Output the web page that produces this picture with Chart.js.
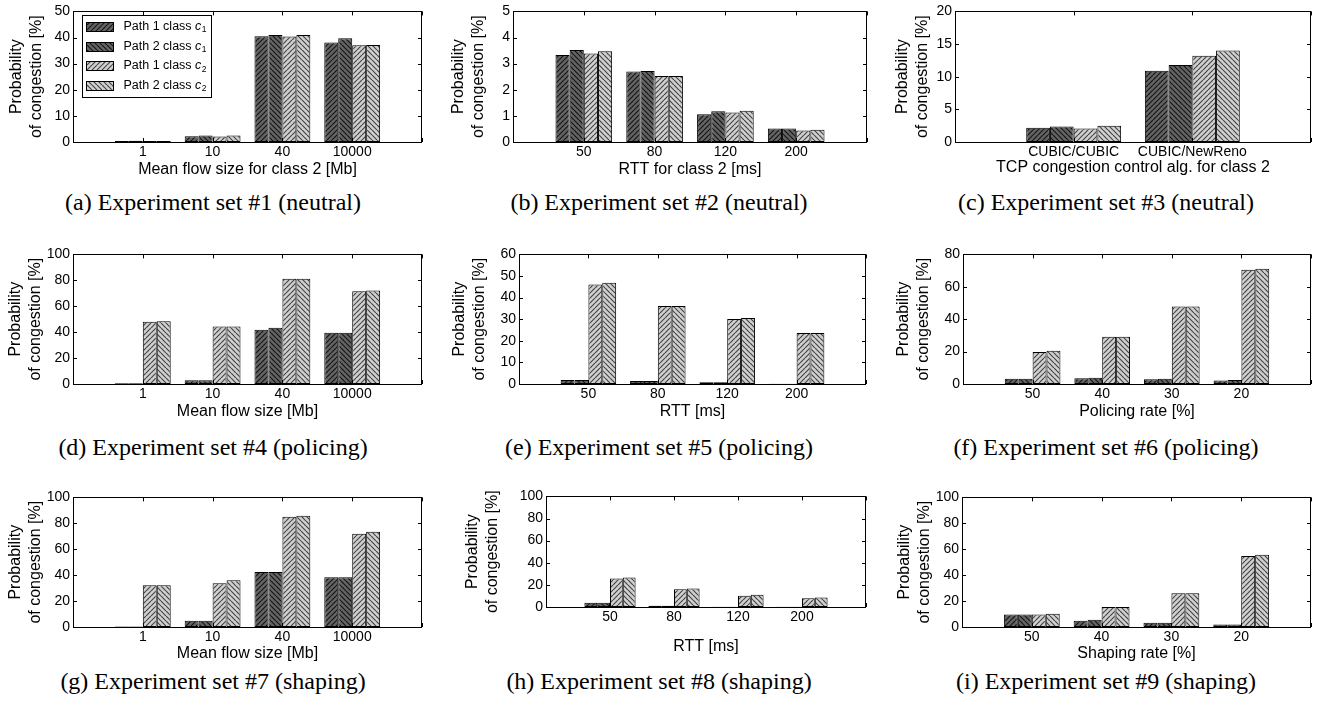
<!DOCTYPE html>
<html>
<head>
<meta charset="utf-8">
<script src="https://cdn.jsdelivr.net/npm/chart.js@4.4.1/dist/chart.umd.min.js"></script>
<style>
  body { margin: 0; background: #fff; width: 1327px; height: 706px; position: relative; overflow: hidden; }
  .panel { position: absolute; }
  .cap { position: absolute; font-family: "Liberation Serif", "Times New Roman", serif; font-size: 24px;
         white-space: nowrap; transform: translate(-50%, -50%); color: #000; }
</style>
</head>
<body>
<script>
// category labels
const flowSizes = ['1', '10', '40', '10000']
const rtts = ['50', '80', '120', '200']
const tcpAlgs = ['CUBIC/CUBIC', 'CUBIC/NewReno']
const rates = ['50', '40', '30', '20']

const seriesLabels = ['Path 1 class c1', 'Path 2 class c1', 'Path 1 class c2', 'Path 2 class c2']

// values per series, in the order of seriesLabels
const set1 = [[0.4, 2.2, 40.5, 38.1], [0.5, 2.5, 41.0, 39.7], [0.4, 2.1, 40.4, 37.0], [0.4, 2.5, 41.0, 37.1]]
const set2 = [[3.33, 2.70, 1.06, 0.52], [3.52, 2.72, 1.18, 0.52], [3.39, 2.53, 1.13, 0.44], [3.47, 2.53, 1.20, 0.47]]
const set3 = [[2.18, 10.9], [2.38, 11.8], [2.08, 13.2], [2.48, 14.0]]
const set4 = [[0.5, 2.8, 41.9, 39.6], [0.5, 2.8, 43.4, 39.6], [48.0, 44.4, 81.2, 71.6], [48.5, 44.4, 81.2, 72.1]]
const set5 = [[1.8, 1.4, 0.8, 0.15], [1.8, 1.4, 0.8, 0.15], [46.1, 36.1, 30.1, 23.6], [46.9, 36.1, 30.6, 23.6]]
const set6 = [[3.2, 3.5, 3.0, 2.2], [3.2, 3.9, 3.2, 2.4], [19.7, 29.2, 47.9, 70.5], [20.5, 29.2, 47.9, 71.1]]
const set7 = [[0.3, 4.8, 42.5, 38.4], [0.3, 4.8, 42.5, 38.4], [32.3, 33.8, 85.0, 72.0], [32.3, 36.1, 85.8, 73.5]]
const set8 = [[3.9, 1.2, 0.3, 0.15], [3.9, 1.2, 0.3, 0.15], [25.7, 16.1, 10.1, 7.8], [26.6, 16.7, 11.0, 8.7]]
const set9 = [[9.7, 4.8, 3.3, 2.0], [9.7, 5.6, 3.3, 2.0], [9.7, 15.5, 26.0, 54.7], [10.2, 15.5, 26.0, 55.7]]

// y axis ranges
const yMax = [50, 5, 20, 100, 60, 80, 100, 100, 100]
const yStep = [10, 1, 5, 20, 10, 10, 20, 20, 20]

const xTitles = [
  'Mean flow size for class 2 [Mb]', 'RTT for class 2 [ms]', 'TCP congestion control alg. for class 2',
  'Mean flow size [Mb]', 'RTT [ms]', 'Policing rate [%]',
  'Mean flow size [Mb]', 'RTT [ms]', 'Shaping rate [%]'
]
const captions = [
  '(a) Experiment set #1 (neutral)', '(b) Experiment set #2 (neutral)', '(c) Experiment set #3 (neutral)',
  '(d) Experiment set #4 (policing)', '(e) Experiment set #5 (policing)', '(f) Experiment set #6 (policing)',
  '(g) Experiment set #7 (shaping)', '(h) Experiment set #8 (shaping)', '(i) Experiment set #9 (shaping)'
]

const sets = [set1, set2, set3, set4, set5, set6, set7, set8, set9]
const cats = [flowSizes, rtts, tcpAlgs, flowSizes, rtts, rates, flowSizes, rtts, rates]

// plot-area boxes in page pixels (l, t, r, b), offset of y-title, x-title distance
const boxes = [
  { l: 73, t: 10, r: 422, b: 142, d1: 56, xt: 28 },
  { l: 513, t: 10, r: 867, b: 142, d1: 54, xt: 28 },
  { l: 955, t: 10, r: 1311, b: 142, d1: 52, xt: 26 },
  { l: 73, t: 253, r: 422, b: 384, d1: 57, xt: 28 },
  { l: 519, t: 253, r: 866, b: 384, d1: 59, xt: 28 },
  { l: 963, t: 253, r: 1311, b: 384, d1: 59, xt: 28 },
  { l: 73, t: 496, r: 422, b: 627, d1: 57, xt: 27 },
  { l: 546, t: 495, r: 866, b: 607, d1: 73, xt: 40 },
  { l: 962, t: 496, r: 1311, b: 627, d1: 57, xt: 27 }
]
const capPos = [[213, 202], [659, 202], [1106, 202], [213, 447], [659, 447], [1106, 447], [213, 681], [659, 681], [1106, 681]]

function hatch (bg, fg, dir) {
  const s = 5
  const c = document.createElement('canvas')
  c.width = s; c.height = s
  const g = c.getContext('2d')
  g.fillStyle = bg
  g.fillRect(0, 0, s, s)
  g.strokeStyle = fg
  g.lineWidth = 1.2
  g.beginPath()
  for (let k = -1; k <= 1; k++) {
    if (dir > 0) { g.moveTo(k * s, s); g.lineTo(k * s + s, 0) } else { g.moveTo(k * s, 0); g.lineTo(k * s + s, s) }
  }
  g.stroke()
  return g.createPattern(c, 'repeat')
}

const fills = [
  hatch('#646464', '#151515', 1),
  hatch('#646464', '#151515', -1),
  hatch('#d0d0d0', '#454545', 1),
  hatch('#d0d0d0', '#454545', -1)
]

// box round the plot with inward tick marks, as in the original
const boxPlugin = {
  id: 'axbox',
  afterDatasetsDraw (chart) {
    const { ctx, chartArea: a, scales: { x, y } } = chart
    ctx.save()
    ctx.strokeStyle = '#000'
    ctx.lineWidth = 1
    ctx.beginPath()
    y.ticks.forEach((t, i) => {
      const py = Math.round(y.getPixelForTick(i)) + 0.5
      ctx.moveTo(a.left, py); ctx.lineTo(a.left + 4, py)
      ctx.moveTo(a.right, py); ctx.lineTo(a.right - 4, py)
    })
    x.ticks.forEach((t, i) => {
      const px = Math.round(x.getPixelForTick(i)) + 0.5
      ctx.moveTo(px, a.bottom); ctx.lineTo(px, a.bottom - 4)
      ctx.moveTo(px, a.top); ctx.lineTo(px, a.top + 4)
    })
    ctx.stroke()
    ctx.strokeRect(Math.round(a.left) + 0.5, Math.round(a.top) + 0.5, Math.round(a.width) - 1, Math.round(a.height))
    ctx.restore()
  }
}

// framed legend drawn inside the plot area of the first panel
const legendPlugin = {
  id: 'framedLegend',
  afterDraw (chart, args, opts) {
    if (!opts.show) return
    const { ctx, chartArea: a } = chart
    const x0 = Math.round(a.left) + 9.5
    const y0 = Math.round(a.top) + 4.5
    ctx.save()
    ctx.fillStyle = '#fff'
    ctx.fillRect(x0, y0, 129, 82)
    ctx.strokeStyle = '#000'
    ctx.lineWidth = 1
    ctx.strokeRect(x0, y0, 129, 82)
    chart.data.datasets.forEach((ds, i) => {
      const cy = y0 + 11 + i * 19.7
      ctx.fillStyle = ds.backgroundColor
      ctx.fillRect(x0 + 4, Math.round(cy - 4.5), 27, 9)
      ctx.strokeRect(x0 + 4, Math.round(cy - 4.5) + 0.5, 27, 9)
      const lbl = ds.label
      ctx.fillStyle = '#000'
      ctx.textBaseline = 'middle'
      ctx.font = '12.5px "Liberation Sans", Arial, sans-serif'
      const head = lbl.slice(0, -2)
      let tx = x0 + 41
      ctx.fillText(head, tx, cy)
      tx += ctx.measureText(head).width
      ctx.font = 'italic 12.5px "Liberation Sans", Arial, sans-serif'
      ctx.fillText(lbl.slice(-2, -1), tx, cy)
      tx += ctx.measureText(lbl.slice(-2, -1)).width
      ctx.font = '8.5px "Liberation Sans", Arial, sans-serif'
      ctx.fillText(lbl.slice(-1), tx + 0.5, cy + 3.5)
    })
    ctx.restore()
  }
}

const tickFont = { family: '"Liberation Sans", Arial, sans-serif', size: 14, lineHeight: 1.2 }
const titleFont = { family: '"Liberation Sans", Arial, sans-serif', size: 16, lineHeight: 1.25 }

function build (k) {
  const b = boxes[k]
  const PT = 10
  const PR = 4
  const YW = b.d1 + 10
  const XH = b.xt + 10
  const w = YW + (b.r - b.l) + PR
  const h = PT + (b.b - b.t) + XH

  const div = document.createElement('div')
  div.className = 'panel'
  div.style.left = (b.l - YW) + 'px'
  div.style.top = (b.t - PT) + 'px'
  div.style.width = w + 'px'
  div.style.height = h + 'px'
  const canvas = document.createElement('canvas')
  canvas.width = w
  canvas.height = h
  div.appendChild(canvas)
  document.body.appendChild(div)

  const labels = ['', ...cats[k], '']
  const datasets = sets[k].map((vals, i) => ({
    label: seriesLabels[i],
    data: [null, ...vals, null],
    backgroundColor: fills[i],
    borderColor: '#000',
    borderWidth: 1,
    borderSkipped: false,
    categoryPercentage: 0.8,
    barPercentage: 1.0
  }))

  new Chart(canvas.getContext('2d'), {
    type: 'bar',
    data: { labels, datasets },
    options: {
      responsive: false,
      animation: false,
      devicePixelRatio: 1,
      layout: { padding: { top: PT, right: PR, left: 0, bottom: 0 } },
      scales: {
        x: {
          offset: false,
          grid: { display: false, drawTicks: false },
          border: { display: false },
          ticks: { font: tickFont, color: '#000', padding: 2, maxRotation: 0, autoSkip: false },
          title: { display: true, text: xTitles[k], font: titleFont, color: '#000', padding: 0 },
          afterFit: (s) => { s.height = XH }
        },
        y: {
          min: 0,
          max: yMax[k],
          grid: { display: false, drawTicks: false },
          border: { display: false },
          ticks: { stepSize: yStep[k], font: tickFont, color: '#000', padding: 3 },
          title: { display: true, text: ['Probability', 'of congestion [%]'], font: titleFont, color: '#000', padding: 0 },
          afterFit: (s) => { s.width = YW }
        }
      },
      plugins: {
        legend: { display: false },
        tooltip: { enabled: false },
        framedLegend: { show: k === 0 }
      }
    },
    plugins: [boxPlugin, legendPlugin]
  })

  const cap = document.createElement('div')
  cap.className = 'cap'
  cap.style.left = capPos[k][0] + 'px'
  cap.style.top = capPos[k][1] + 'px'
  cap.textContent = captions[k]
  document.body.appendChild(cap)
}

for (let k = 0; k < 9; k++) build(k)
</script>
</body>
</html>
